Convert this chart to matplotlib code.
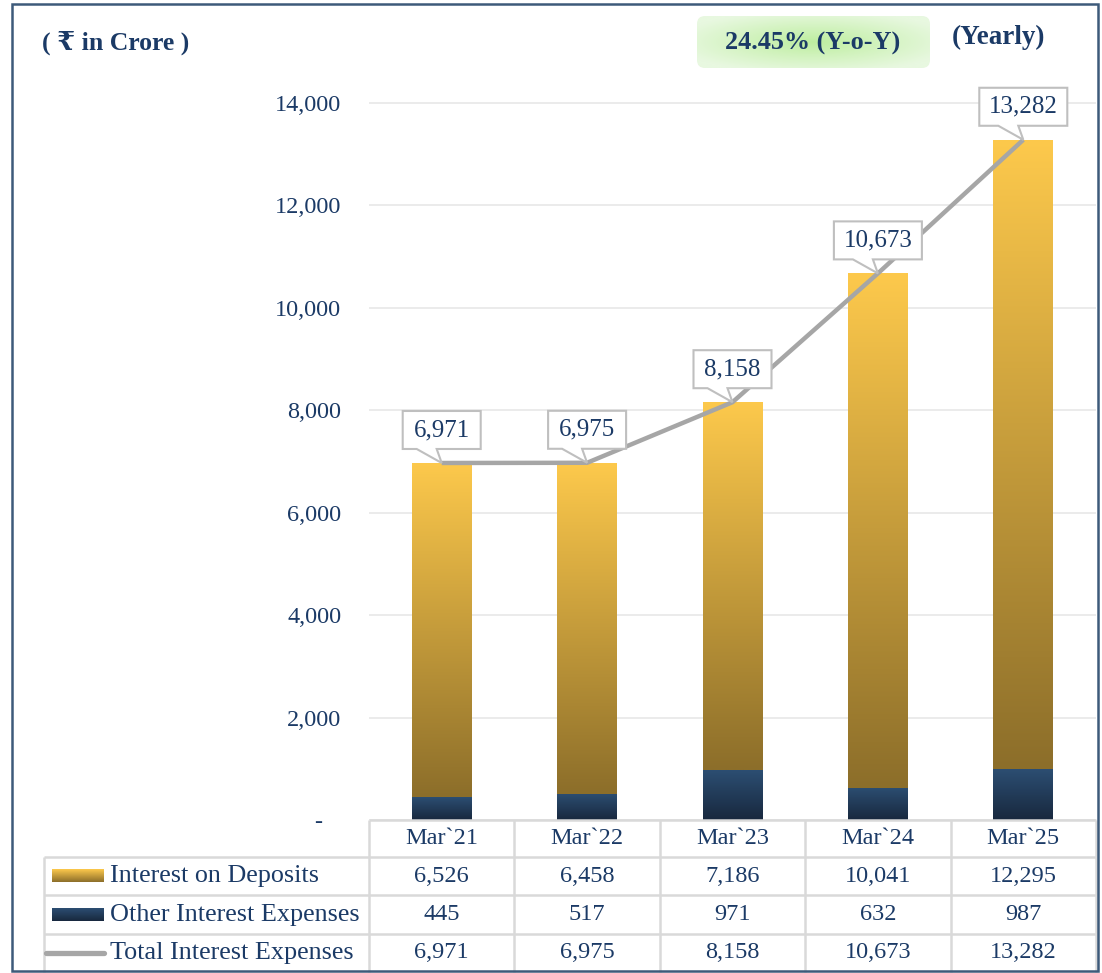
import numpy as np
import matplotlib
matplotlib.use('Agg')
import matplotlib.pyplot as plt
from matplotlib.patches import Rectangle, FancyBboxPatch, Polygon

# ---------------- data ----------------
categories = ["Mar`21", "Mar`22", "Mar`23", "Mar`24", "Mar`25"]
deposits = [6526, 6458, 7186, 10041, 12295]
other = [445, 517, 971, 632, 987]
total = [6971, 6975, 8158, 10673, 13282]
series_names = ["Interest on Deposits", "Other Interest Expenses", "Total Interest Expenses"]
yticks = [0, 2000, 4000, 6000, 8000, 10000, 12000, 14000]
ytick_labels = ["-   ", "2,000", "4,000", "6,000", "8,000", "10,000", "12,000", "14,000"]
unit_label = "( \u20b9 in Crore )"
yoy_label = "24.45% (Y-o-Y)"
period_label = "(Yearly)"

# ---------------- style ----------------
W, H = 1102, 973
FONT = ['Liberation Serif', 'DejaVu Serif', 'DejaVu Sans']
plt.rcParams['font.family'] = FONT
TXT = '#1B3A66'
GRID = '#E9E9E9'
TABLE = '#D9D9D9'
LINEC = '#A6A6A6'
FS_NUM = 17.5
FS_LAB = 18.8

gold_top, gold_bot = np.array([253, 201, 76]) / 255, np.array([140, 110, 42]) / 255
navy_top, navy_bot = np.array([44, 78, 114]) / 255, np.array([24, 40, 62]) / 255


def vgrad(top, bot, n=256):
    t = np.linspace(0, 1, n)[:, None]
    g = bot[None, :] * (1 - t) + top[None, :] * t
    return g[:, None, :]  # rows bottom->top (origin lower)


fig = plt.figure(figsize=(W / 100, H / 100), dpi=100)
fig.patch.set_facecolor('white')

# main axes
x0, x1 = 369, 1096
y_zero, y_14k = 820, 103
px_per = (y_zero - y_14k) / 14000
ymax = 14400
ax_top = y_zero - ymax * px_per
ax = fig.add_axes([x0 / W, (H - y_zero) / H, (x1 - x0) / W, (y_zero - ax_top) / H], zorder=1)
ax.patch.set_alpha(0)
for s in ax.spines.values():
    s.set_visible(False)

# overlay axes in pixel coordinates (y down), drawn above the plot
fax = fig.add_axes([0, 0, 1, 1], zorder=2)
fax.patch.set_alpha(0)
fax.set_xlim(0, W)
fax.set_ylim(H, 0)
fax.axis('off')

xs = np.arange(len(categories))
bw = 0.41
g_gold = vgrad(gold_top, gold_bot)
g_navy = vgrad(navy_top, navy_bot)
for i in xs:
    r1 = Rectangle((i - bw / 2, 0), bw, other[i], facecolor='none', edgecolor='none')
    ax.add_patch(r1)
    im = ax.imshow(g_navy, extent=[i - bw / 2, i + bw / 2, 0, other[i]], origin='lower',
                   aspect='auto', zorder=2, interpolation='bilinear')
    im.set_clip_path(r1)
    r2 = Rectangle((i - bw / 2, other[i]), bw, deposits[i], facecolor='none', edgecolor='none')
    ax.add_patch(r2)
    im = ax.imshow(g_gold, extent=[i - bw / 2, i + bw / 2, other[i], other[i] + deposits[i]],
                   origin='lower', aspect='auto', zorder=2, interpolation='bilinear')
    im.set_clip_path(r2)

ax.plot(xs, total, color=LINEC, lw=3.2, zorder=3, solid_capstyle='butt', solid_joinstyle='round')

ax.set_xlim(-0.5, len(categories) - 0.5)
ax.set_ylim(0, ymax)
ax.set_xticks([])
ax.set_yticks(yticks)
ax.set_yticklabels(ytick_labels)
ax.tick_params(axis='y', length=0, pad=20, labelsize=FS_NUM, labelcolor=TXT)
ax.yaxis.grid(True, color=GRID, lw=1.3)
ax.set_axisbelow(True)

# callouts
fig.canvas.draw()
for i in xs:
    dx, dy = ax.transData.transform((i, total[i]))
    tx, ty = dx, H - dy
    label = f"{total[i]:,}"
    w = 88 if len(label) > 5 else 78
    bb, bt = ty - 14, ty - 52
    verts = [(tx, ty), (tx - 25, bb), (tx - w / 2, bb), (tx - w / 2, bt),
             (tx + w / 2, bt), (tx + w / 2, bb), (tx - 5, bb)]
    fax.add_patch(Polygon(verts, closed=True, facecolor='white', edgecolor='#BFBFBF',
                          lw=1.5, zorder=5))
    fax.text(tx, ty - 33, label, ha='center', va='center', fontsize=18, color=TXT, zorder=6)

# border
fax.add_patch(Rectangle((12, 4), 1086, 967, facecolor='none', edgecolor='#3D5A7A', lw=1.8, zorder=10))

# header texts
fax.text(42, 43, unit_label, ha='left', va='center', fontsize=18.5, fontweight='bold', color=TXT)
fax.text(952, 37, period_label, ha='left', va='center', fontsize=19.5, fontweight='bold', color=TXT)

badge = FancyBboxPatch((697, 16), 233, 52, boxstyle='round,pad=0,rounding_size=8',
                       facecolor='none', edgecolor='none', zorder=3)
fax.add_patch(badge)
yy, xx = np.mgrid[-1:1:80j, -1:1:240j]
rr = np.clip(np.sqrt(xx ** 2 + yy ** 2) / 1.2, 0, 1)[..., None]
c_in, c_out = np.array([190, 238, 160]) / 255, np.array([232, 248, 224]) / 255
badge_img = c_in * (1 - rr) + c_out * rr
im = fax.imshow(badge_img, extent=[697, 930, 68, 16], aspect='auto', zorder=3, interpolation='bilinear')
im.set_clip_path(badge)
fax.text(813, 43, yoy_label, ha='center', va='center', fontsize=18.8, fontweight='bold', color=TXT, zorder=4)

# ---------------- data table ----------------
col_edges = [x0 + k * (x1 - x0) / len(categories) for k in range(len(categories) + 1)]
row_edges = [820, 857, 895, 934, 972]
tl = dict(color=TABLE, lw=1.8, zorder=4, solid_capstyle='butt')
fax.plot([col_edges[0], col_edges[-1]], [row_edges[0]] * 2, **tl)
for y in row_edges[1:4]:
    fax.plot([44, col_edges[-1]], [y, y], **tl)
for x in col_edges:
    fax.plot([x, x], [row_edges[0], row_edges[-1]], **tl)
fax.plot([44, 44], [row_edges[1], row_edges[-1]], **tl)

ccent = [(col_edges[k] + col_edges[k + 1]) / 2 for k in range(len(categories))]
rcent = [(row_edges[k] + row_edges[k + 1]) / 2 for k in range(4)]
for k, c in enumerate(categories):
    fax.text(ccent[k], rcent[0], c, ha='center', va='center', fontsize=FS_NUM, color=TXT)
for r, vals in enumerate([deposits, other, total], start=1):
    for k, v in enumerate(vals):
        fax.text(ccent[k], rcent[r], f"{v:,}", ha='center', va='center', fontsize=FS_NUM, color=TXT)
    fax.text(110, rcent[r], series_names[r - 1], ha='left', va='center', fontsize=FS_LAB, color=TXT)

# legend keys
fax.imshow(g_gold, extent=[52, 104, rcent[1] + 6.5, rcent[1] - 6.5], origin='lower',
           aspect='auto', zorder=4)
fax.imshow(g_navy, extent=[52, 104, rcent[2] + 6.5, rcent[2] - 6.5], origin='lower',
           aspect='auto', zorder=4)
fax.plot([46, 104], [rcent[3], rcent[3]], color=LINEC, lw=3.8, solid_capstyle='round', zorder=4)
fax.set_xlim(0, W)
fax.set_ylim(H, 0)

fig.savefig('out.png', dpi=100, facecolor='white')
